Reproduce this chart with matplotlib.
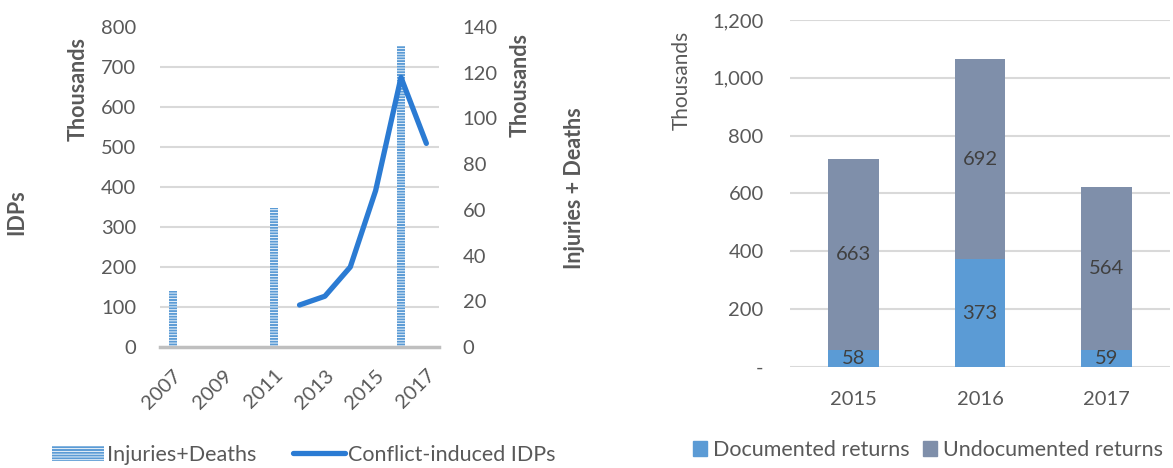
import numpy as np
import matplotlib
matplotlib.use("Agg")
import matplotlib.pyplot as plt
from matplotlib.ticker import FuncFormatter
from matplotlib.patches import Patch
from matplotlib.lines import Line2D

plt.rcParams['font.family'] = ['Lato', 'DejaVu Sans']
plt.rcParams['hatch.linewidth'] = 0.6

# Left panel data (thousands)
inj_years = [2007, 2011, 2016]
inj_deaths = [24.5, 60.7, 131.7]          # right axis
idp_years = [2012, 2013, 2014, 2015, 2016, 2017]
idps = [105, 127, 200, 391, 674, 509]       # left axis
year_ticks = [2007, 2009, 2011, 2013, 2015, 2017]

# Right panel data (thousands)
ret_years = ['2015', '2016', '2017']
documented = [58, 373, 59]
undocumented = [663, 692, 564]

txt = '#595959'
grid_c = '#d9d9d9'
bar_blue = '#5b9bd5'
line_blue = '#2b7bd3'
undoc_c = '#7f8faa'

fig = plt.figure(figsize=(11.73, 4.68), dpi=100)

# ---- left chart: bars on right axis, line on left axis
ax = fig.add_axes([0.1364, 0.2585, 0.2379, 0.6838])
ax2 = ax.twinx()

ax.bar(inj_years, inj_deaths, width=0.32, color=bar_blue, edgecolor='white',
       linewidth=0, hatch='------', zorder=2)
ax.set_ylim(0, 140)
ax.set_xlim(2006.5, 2017.5)
ax.yaxis.tick_right()
ax.set_yticks(np.arange(0, 141, 20))
ax.set_yticks(np.linspace(0, 140, 9), minor=True)
ax.grid(True, which='minor', axis='y', color=grid_c, linewidth=1.5, zorder=0)
ax.tick_params(axis='y', which='both', length=0, labelsize=14.5, colors=txt, pad=17)
ax.set_xticks(year_ticks)
ax.set_xticklabels([str(y) for y in year_ticks], rotation=45, ha='right',
                   rotation_mode='anchor')
ax.tick_params(axis='x', length=0, labelsize=14.5, colors=txt, pad=14)
for s in ['top', 'left', 'right']:
    ax.spines[s].set_visible(False)
ax.spines['bottom'].set_color('#bfbfbf')
ax.spines['bottom'].set_linewidth(2.5)

ax2.plot(idp_years, idps, color=line_blue, linewidth=3.8, solid_capstyle='round',
         solid_joinstyle='round', zorder=3)
ax2.set_ylim(0, 800)
ax2.yaxis.tick_left()
ax2.set_yticks(np.arange(0, 801, 100))
ax2.tick_params(axis='y', length=0, labelsize=14.5, colors=txt, pad=17)
for s in ax2.spines.values():
    s.set_visible(False)

fig.text(0.0665, 0.81, 'Thousands', rotation=90, ha='center', va='center',
         fontsize=15.5, fontweight='bold', color=txt)
fig.text(0.0145, 0.547, 'IDPs', rotation=90, ha='center', va='center',
         fontsize=15.5, fontweight='bold', color=txt)
fig.text(0.443, 0.818, 'Thousands', rotation=90, ha='center', va='center',
         fontsize=15.5, fontweight='bold', color=txt)
fig.text(0.490, 0.598, 'Injuries + Deaths', rotation=90, ha='center', va='center',
         fontsize=15.5, fontweight='bold', color=txt)

h1 = Patch(facecolor=bar_blue, edgecolor='white', hatch='------', linewidth=0)
h2 = Line2D([0], [0], color=line_blue, linewidth=3.8, solid_capstyle='round')
fig.legend([h1, h2], ['Injuries+Deaths', 'Conflict-induced IDPs'],
           loc='center', bbox_to_anchor=(0.259, 0.028), ncol=2, frameon=False,
           fontsize=15.5, labelcolor=txt, handlelength=2.4, handletextpad=0.15,
           columnspacing=1.7)

# ---- right chart: stacked bars
bx = fig.add_axes([0.6735, 0.2158, 0.324, 0.7415])
xpos = np.arange(len(ret_years))
b1 = bx.bar(xpos, documented, width=0.4, color=bar_blue, zorder=2)
b2 = bx.bar(xpos, undocumented, width=0.4, bottom=documented, color=undoc_c, zorder=2)
for bars, vals, base in [(b1, documented, [0] * 3), (b2, undocumented, documented)]:
    for r, v, b in zip(bars, vals, base):
        bx.text(r.get_x() + r.get_width() / 2, b + v / 2, str(v), ha='center',
                va='center', fontsize=14.5, color='#404040', zorder=3)
bx.set_ylim(0, 1200)
bx.set_xlim(-0.5, 2.5)
bx.set_yticks(np.arange(0, 1201, 200))
bx.yaxis.set_major_formatter(FuncFormatter(lambda v, p: '-' if v == 0 else f'{int(v):,}'))
bx.set_xticks(xpos)
bx.set_xticklabels(ret_years)
bx.grid(True, axis='y', color=grid_c, linewidth=1.5, zorder=0)
bx.tick_params(axis='both', length=0, labelsize=14.5, colors=txt)
bx.tick_params(axis='y', pad=19)
bx.tick_params(axis='x', pad=17)
for s in bx.spines.values():
    s.set_visible(False)
bx.set_ylabel('Thousands', fontsize=15, color=txt)
bx.yaxis.set_label_coords(-0.258, 0.827)

fig.legend([Patch(color=bar_blue), Patch(color=undoc_c)],
           ['Documented returns', 'Undocumented returns'],
           loc='center', bbox_to_anchor=(0.791, 0.038), ncol=2, frameon=False,
           fontsize=15.5, labelcolor=txt, handlelength=0.65, handleheight=0.65,
           handletextpad=0.28, columnspacing=0.6)

fig.savefig('out.png', dpi=100)
